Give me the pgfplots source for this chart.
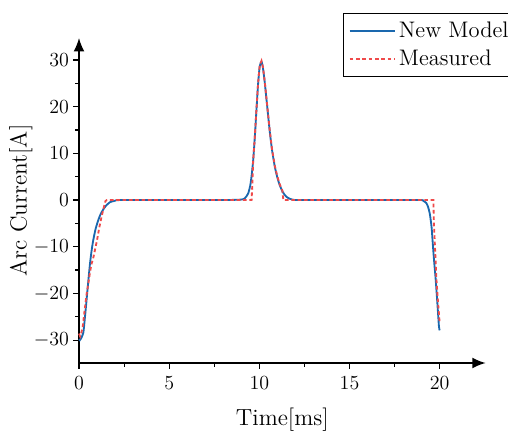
\documentclass[border=0pt]{standalone}
\usepackage{pgfplots}
\pgfplotsset{compat=1.18}
\usetikzlibrary{arrows.meta}
\definecolor{modelblue}{HTML}{1A68AE}
\definecolor{measred}{HTML}{EF4A4A}
\begin{document}
\begin{tikzpicture}
\begin{axis}[
  name=ax, at={(0,0)}, anchor=south west,
  scale only axis, width=244pt, height=195pt,
  axis lines=left,
  axis line style={line width=0.9pt, -{Latex[length=8pt,width=6.5pt]}},
  xmin=0, xmax=22.55, ymin=-34.9, ymax=34.7,
  xtick={0,5,10,15,20}, ytick={-30,-20,-10,0,10,20,30},
  minor tick num=1,
  tick align=outside,
  major tick length=3.5pt, minor tick length=2.2pt,
  tick style={black, line width=0.7pt},
  ticklabel style={font=\fontsize{12.5}{14}\selectfont},
  xticklabel style={yshift=-1pt},
  yticklabel style={xshift=1pt},
  xlabel={Time[ms]}, ylabel={Arc Current[A]},
  label style={font=\fontsize{14}{16}\selectfont},
  xlabel style={at={(axis description cs:0.5,-0.175)}, anchor=center},
  ylabel style={at={(axis description cs:-0.143,0.5)}, anchor=center, rotate=0},
  legend style={at={(axis description cs:1.078,1.077)}, anchor=north east,
    draw=black, line width=0.7pt, font=\fontsize{13.5}{15}\selectfont,
    inner sep=3pt, row sep=2pt, cells={anchor=west}},
  legend image code/.code={\draw[#1] (0cm,0cm) -- (0.95cm,0cm);},
  legend cell align=left,
  clip=false,
]
\addplot[modelblue, line width=1.1pt, smooth, tension=0.4] coordinates {
(0,-29.8)(0.05,-30)(0.12,-29.6)(0.24,-28.4)(0.32,-25.5)(0.42,-21.4)(0.52,-17.2)
(0.61,-13.6)(0.7,-10.8)(0.79,-8.6)(0.92,-6.2)(1.07,-4.3)(1.2,-3)(1.35,-2.0)
(1.5,-1.2)(1.72,-0.45)(2.0,-0.15)(2.3,0)(5,0)(8,0)(9.0,0.1)(9.2,0.4)(9.38,1.4)
(9.5,3.2)(9.58,5.5)(9.66,8.6)(9.75,13.5)(9.84,19.3)(9.93,24.8)(10.02,28.6)
(10.12,29.6)(10.2,28.3)(10.3,25.2)(10.4,21.4)(10.5,17.6)(10.58,14.6)(10.7,10.8)
(10.86,7.1)(11.0,4.8)(11.13,3.2)(11.3,1.7)(11.5,0.7)(11.7,0.25)(11.9,0.05)
(12.2,0)(15,0)(18,0)(19.0,0)(19.1,-0.2)(19.25,-0.6)(19.35,-1.4)(19.45,-2.9)
(19.55,-5.8)(19.63,-10)(19.7,-13.5)(19.78,-17.1)(19.87,-22)(19.96,-27.1)(20.0,-27.9)
};
\addlegendentry{New Model}
\addplot[measred, line width=1.1pt, dash pattern=on 2.2pt off 1.6pt] coordinates {
(0,-28.6)(0.06,-29.2)(0.12,-28.5)(0.2,-27.3)(0.3,-24)(0.42,-20.2)(0.52,-17.8)
(0.62,-15.2)(0.7,-13.6)(0.78,-12.6)(0.9,-10.4)(1.0,-8.6)(1.13,-5.8)(1.25,-3.6)
(1.38,-1.5)(1.47,-0.2)(1.55,0)(9.57,0)(9.6,2.4)(9.66,8.6)(9.75,13.6)(9.84,19.5)
(9.93,25)(10.02,28.8)(10.12,29.8)(10.2,28.5)(10.3,25.4)(10.4,21.6)(10.5,17.8)
(10.58,14.8)(10.7,11)(10.86,7.3)(11.0,5)(11.13,3.4)(11.28,2)(11.33,0)(19.65,0)
(19.68,-5)(19.75,-11)(19.82,-17)(19.9,-21.5)(20.0,-26.4)
};
\addlegendentry{Measured}
\end{axis}
\pgfresetboundingbox
\useasboundingbox ([xshift=-47.4pt,yshift=-41.4pt]ax.south west) rectangle ([xshift=257.4pt,yshift=217.8pt]ax.south west);
\end{tikzpicture}
\end{document}
